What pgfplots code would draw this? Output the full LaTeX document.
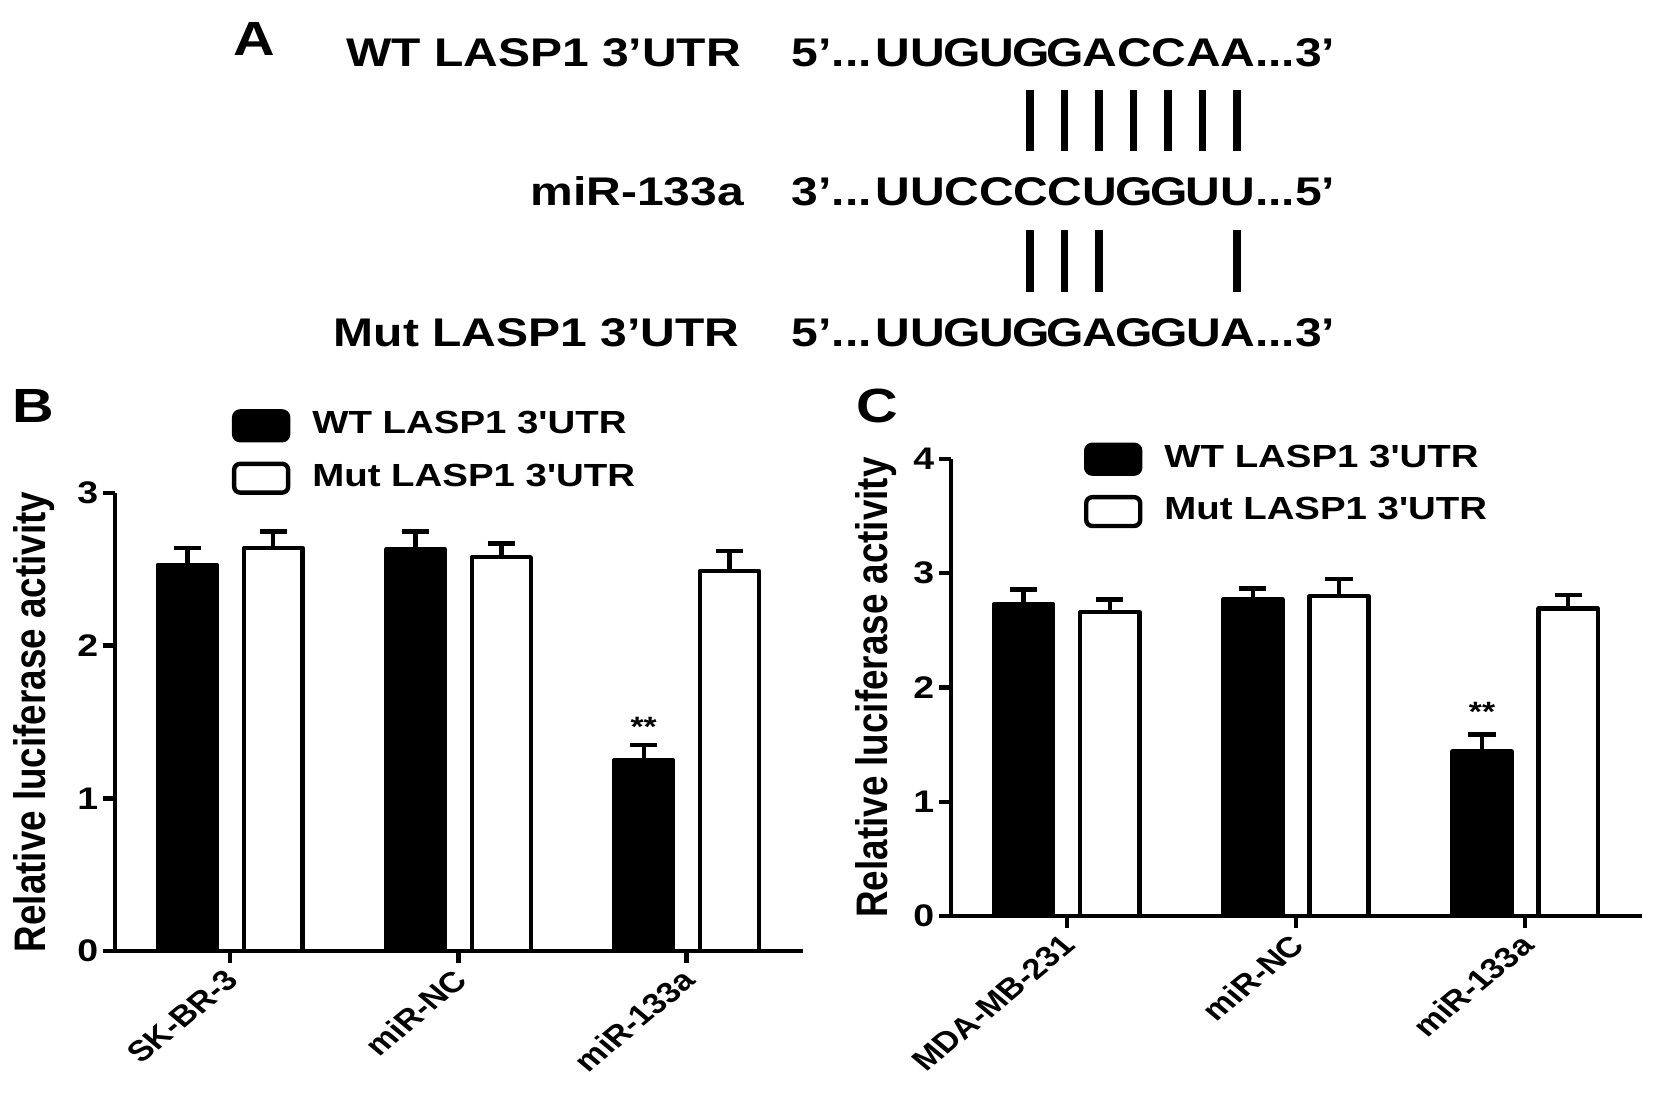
\documentclass[border=0pt]{standalone}
\usepackage{fontspec}
\setmainfont{Liberation Sans}
\newfontfamily\wide{Liberation Sans}[FakeStretch=1.2, Ligatures=TeXOff]
\usepackage{pgfplots}
\pgfplotsset{compat=1.18}

\pgfplotsset{
  luc/.style={
    scale only axis,
    xmin=-0.505, xmax=2.51, ymin=0,
    axis x line*=bottom, axis y line*=left,
    axis line style={-, line width=1.1pt},
    tick align=outside,
    major tick length=3pt,
    tick style={line width=1.1pt, black},
    xtick={0,1,2},
    /pgf/number format/assume math mode=true,
    yticklabel style={font=\wide\bfseries\fontsize{7.8}{9}\selectfont, inner sep=1pt},
    xticklabel style={yshift=-2.2pt, xshift=1.5pt, xscale=1.2, rotate=45, anchor=east,
      font=\bfseries\fontsize{7.2}{8}\selectfont, inner sep=1pt},
    ylabel={Relative luciferase activity},
    legend style={draw=none, fill=none, inner sep=0pt, outer sep=0pt, anchor=north west,
      row sep=4.8pt, column sep=5.5pt, font=\wide\bfseries\fontsize{8}{9.6}\selectfont,
      nodes={inner sep=0pt}},
    legend cell align=left,
    clip=false,
  },
  wtbar/.style={ybar, bar width=0.258, bar shift=0pt, fill=black, draw=black,
    line width=1.1pt, line join=round,
    legend image code/.code={\draw[fill=black, draw=black, line width=1.1pt, rounded corners=1.5pt]
      (0pt,-3.6pt) rectangle (13.5pt,3.6pt);},
    error bars/.cd, y dir=plus, y explicit,
    error bar style={line width=1.1pt, black},
    error mark options={rotate=90, line width=1.2pt, mark size=3.4pt, black}},
  mutbar/.style={ybar, bar width=0.258, bar shift=0pt, fill=white, draw=black,
    line width=1.1pt, line join=round,
    legend image code/.code={\draw[fill=white, draw=black, line width=1.1pt, rounded corners=1.5pt]
      (0pt,-3.6pt) rectangle (13.5pt,3.6pt);},
    error bars/.cd, y dir=plus, y explicit,
    error bar style={line width=1.1pt, black},
    error mark options={rotate=90, line width=1.2pt, mark size=3.4pt, black}},
}

\newcommand\nt[1]{\makebox[8.625pt][c]{#1}}

\begin{document}
\begin{tikzpicture}
\path[use as bounding box] (0,0) rectangle (413.5pt,-279.25pt);

% panel A: sequences
\begin{scope}[every node/.style={inner sep=0pt, font=\wide\bfseries\fontsize{10}{12}\selectfont}]
\node[anchor=base west, font=\wide\bfseries\fontsize{12}{14}\selectfont] at (58.3pt,-13.75pt) {A};
\node[anchor=base east] at (185.4pt,-16.6pt) {WT LASP1 3’UTR};
\node[anchor=base east] at (186.2pt,-51.4pt) {miR-133a};
\node[anchor=base east] at (185.0pt,-86.5pt) {Mut LASP1 3’UTR};

\node[anchor=base east] at (218.2pt,-16.6pt) {5’...};
\node[anchor=base west] at (218.7pt,-16.6pt) {\nt U\nt U\nt G\nt U\nt G\nt G\nt A\nt C\nt C\nt A\nt A};
\node[anchor=base west] at (313.6pt,-16.6pt) {...3’};

\node[anchor=base east] at (218.2pt,-51.4pt) {3’...};
\node[anchor=base west] at (218.7pt,-51.4pt) {\nt U\nt U\nt C\nt C\nt C\nt C\nt U\nt G\nt G\nt U\nt U};
\node[anchor=base west] at (313.6pt,-51.4pt) {...5’};

\node[anchor=base east] at (218.2pt,-86.5pt) {5’...};
\node[anchor=base west] at (218.7pt,-86.5pt) {\nt U\nt U\nt G\nt U\nt G\nt G\nt A\nt G\nt G\nt U\nt A};
\node[anchor=base west] at (313.6pt,-86.5pt) {...3’};
\end{scope}

\foreach \i in {5,...,11}
  \draw[line width=1.8pt] ({218.7pt+(\i-0.5)*8.625pt},-22.4pt) -- ({218.7pt+(\i-0.5)*8.625pt},-37.7pt);
\foreach \i in {5,6,7,11}
  \draw[line width=1.8pt] ({218.7pt+(\i-0.5)*8.625pt},-57.5pt) -- ({218.7pt+(\i-0.5)*8.625pt},-73pt);

% panel letters
\node[anchor=base west, inner sep=0pt, font=\wide\bfseries\fontsize{12}{14}\selectfont] at (3.0pt,-105.5pt) {B};
\node[anchor=base west, inner sep=0pt, font=\wide\bfseries\fontsize{12}{14}\selectfont] at (214.0pt,-105.5pt) {C};

% panel B
\begin{axis}[luc,
  at={(28.75pt,-237.75pt)}, anchor=south west,
  width=172pt, height=114.5pt,
  ymax=3, ytick={0,1,2,3},
  xticklabels={SK-BR-3,miR-NC,miR-133a},
  every axis y label/.style={at={(rel axis cs:-0.1177,0.5)}, xscale=1.2, rotate=90,
    anchor=center, font=\bfseries\fontsize{9.2}{11}\selectfont},
  legend style={at={(0.170,1.183)}},
]
\addplot[wtbar] coordinates {(-0.188,2.53) +- (0,0.11) (0.812,2.63) +- (0,0.12) (1.812,1.25) +- (0,0.10)};
\addlegendentry{WT LASP1 3'UTR}
\addplot[mutbar] coordinates {(0.188,2.64) +- (0,0.11) (1.188,2.58) +- (0,0.09) (2.188,2.49) +- (0,0.13)};
\addlegendentry{Mut LASP1 3'UTR}
\node[inner sep=0pt, font=\wide\bfseries\fontsize{7}{8}\selectfont] at (axis cs:1.812,1.47) {**};
\end{axis}

% panel C
\begin{axis}[luc,
  at={(237.75pt,-229pt)}, anchor=south west,
  width=172.75pt, height=114.25pt,
  ymax=4, ytick={0,1,2,3,4},
  xticklabels={MDA-MB-231,miR-NC,miR-133a},
  every axis y label/.style={at={(rel axis cs:-0.1085,0.5)}, xscale=1.2, rotate=90,
    anchor=center, font=\bfseries\fontsize{9.2}{11}\selectfont},
  legend style={at={(0.1925,1.036)}},
]
\addplot[wtbar] coordinates {(-0.188,2.73) +- (0,0.13) (0.812,2.77) +- (0,0.10) (1.812,1.44) +- (0,0.15)};
\addlegendentry{WT LASP1 3'UTR}
\addplot[mutbar] coordinates {(0.188,2.66) +- (0,0.11) (1.188,2.80) +- (0,0.15) (2.188,2.69) +- (0,0.12)};
\addlegendentry{Mut LASP1 3'UTR}
\node[inner sep=0pt, font=\wide\bfseries\fontsize{7}{8}\selectfont] at (axis cs:1.812,1.79) {**};
\end{axis}
\end{tikzpicture}
\end{document}
